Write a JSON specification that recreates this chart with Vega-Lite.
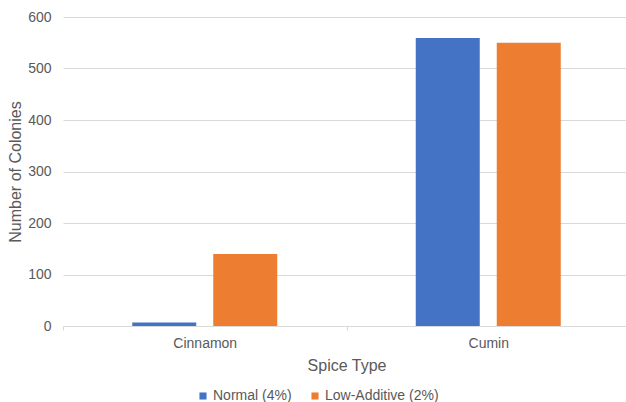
{
  "$schema": "https://vega.github.io/schema/vega-lite/v6.json",
  "width": 567,
  "height": 309,
  "autosize": "none",
  "padding": {"left": 63, "top": 17, "right": 0, "bottom": 76},
  "background": "white",
  "data": {
    "values": [
      {"spice": "Cinnamon", "formula": "Normal (4%)", "colonies": 7},
      {"spice": "Cinnamon", "formula": "Low-Additive (2%)", "colonies": 140},
      {"spice": "Cumin", "formula": "Normal (4%)", "colonies": 559},
      {"spice": "Cumin", "formula": "Low-Additive (2%)", "colonies": 550}
    ]
  },
  "mark": {"type": "bar"},
  "encoding": {
    "x": {
      "field": "spice",
      "type": "nominal",
      "title": "Spice Type",
      "sort": ["Cinnamon", "Cumin"],
      "scale": {"paddingInner": 0, "paddingOuter": 0},
      "axis": {
        "labelAngle": 0,
        "labelFont": "Liberation Sans",
        "labelFontSize": 14,
        "labelColor": "#595959",
        "labelPadding": 6,
        "titleFont": "Liberation Sans",
        "titleFontSize": 16,
        "titleFontWeight": "normal",
        "titleColor": "#595959",
        "titlePadding": 7,
        "domainColor": "#d9d9d9",
        "tickBand": "extent",
        "tickColor": "#d9d9d9",
        "tickSize": 4
      }
    },
    "xOffset": {
      "field": "formula",
      "type": "nominal",
      "sort": ["Normal (4%)", "Low-Additive (2%)"],
      "scale": {"paddingInner": 0.21, "paddingOuter": 0.855}
    },
    "y": {
      "field": "colonies",
      "type": "quantitative",
      "title": "Number of Colonies",
      "scale": {"domain": [0, 600]},
      "axis": {
        "values": [0, 100, 200, 300, 400, 500, 600],
        "labelFont": "Liberation Sans",
        "labelFontSize": 14,
        "labelColor": "#595959",
        "labelPadding": 12,
        "ticks": false,
        "domain": false,
        "gridColor": "#d9d9d9",
        "titleFont": "Liberation Sans",
        "titleFontSize": 16,
        "titleFontWeight": "normal",
        "titleColor": "#595959",
        "titlePadding": 4
      }
    },
    "color": {
      "field": "formula",
      "type": "nominal",
      "sort": ["Normal (4%)", "Low-Additive (2%)"],
      "scale": {"range": ["#4472C4", "#ED7D31"]},
      "legend": {
        "title": null,
        "orient": "none",
        "direction": "horizontal",
        "legendX": 133,
        "legendY": 372,
        "symbolType": "square",
        "symbolSize": 50,
        "symbolStrokeWidth": 0,
        "labelFont": "Liberation Sans",
        "labelFontSize": 14,
        "labelColor": "#595959",
        "labelOffset": 3,
        "columnPadding": 16
      }
    }
  },
  "config": {"view": {"stroke": null}}
}
